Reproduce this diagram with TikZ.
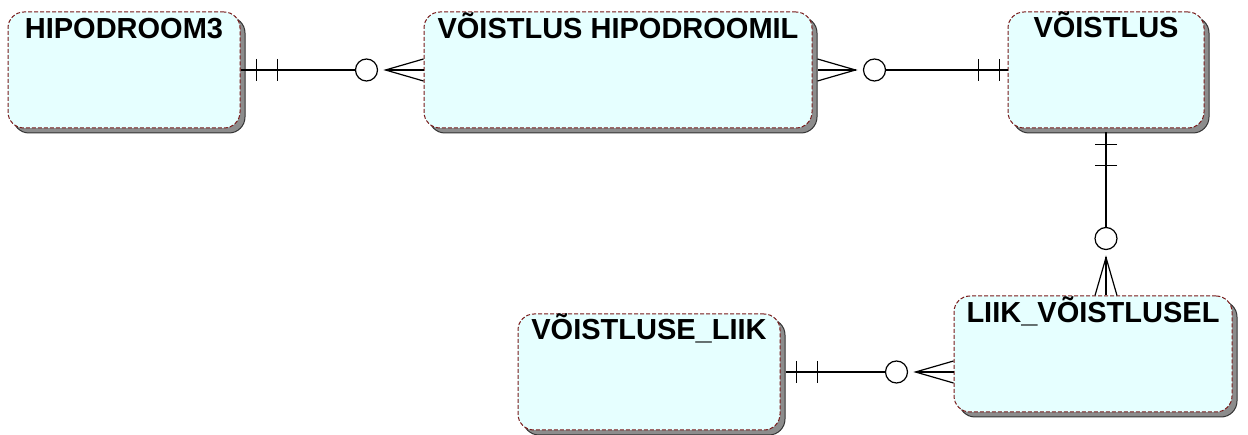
\documentclass[tikz,border=0pt]{standalone}
\usepackage{fontspec}
\setmainfont{Liberation Sans}
\usetikzlibrary{shapes,arrows,shadows,calc}
\definecolor{boxfill}{RGB}{230,255,255}
\definecolor{boxline}{RGB}{120,25,25}
\tikzset{
	entity/.style   = {draw=boxline, line width=1pt, dash pattern=on 4pt off 2pt, fill=boxfill,
		rounded corners=16pt, minimum height=116pt, inner sep=0pt,
		drop shadow={shadow xshift=5pt, shadow yshift=-5pt, fill=black!45, draw=black!80,
			solid, line width=1pt, opacity=1}},
	title/.style    = {anchor=base, inner sep=0pt, font=\fontsize{29}{33}\selectfont\bfseries},
	rel/.style      = {draw, line width=1.2pt},
	% zero-or-many end, drawn at the box edge
	crowzero/.pic   = {
		\draw[rel] (0,-11) -- (-38,0) -- (0,11);
		\draw[rel] (-38,0) -- (0,0);
		\draw[rel] (-57,0) circle[radius=11pt];
		\coordinate (-c) at (-68,0);
	},
	% exactly-one end
	onebar/.pic     = {
		\draw[rel] (16,-11) -- (16,11);
		\draw[rel] (37,-11) -- (37,11);
	}
}

\begin{document}
\begin{tikzpicture}[x=1pt, y=-1pt]
	\useasboundingbox (0,0) rectangle (1248,435);
	\draw
	% entities
	node at (124,70)[entity, minimum width=232pt] (hipo) {}
	node at (618,70)[entity, minimum width=388pt] (vh) {}
	node at (1106,70)[entity, minimum width=196pt] (vo) {}
	node at (1093,354)[entity, minimum width=278pt] (liik) {}
	node at (649,372)[entity, minimum width=262pt] (vl) {};
	
	\node[title] (hipo-t) at ($(hipo.north)+(0,27)$) {HIPODROOM3};
	\node[title] (vh-t) at ($(vh.north)+(0,27)$) {VÕISTLUS HIPODROOMIL};
	\node[title] (vo-t) at ($(vo.north)+(0,26)$) {VÕISTLUS};
	\node[title] (liik-t) at ($(liik.north)+(0,27)$) {LIIK\_VÕISTLUSEL};
	\node[title] (vl-t) at ($(vl.north)+(0,26)$) {VÕISTLUSE\_LIIK};
	
	% relationships
	\pic (m1) at (vh.west) {crowzero};
	\pic at (hipo.east) {onebar};
	\draw[rel] (hipo.east) -- (m1-c);
	
	\pic[rotate=180] (m2) at ([xshift=5pt]vh.east) {crowzero};
	\pic[rotate=180] at ([xshift=8pt]vo.west) {onebar};
	\draw[rel] (vo.west) -- (m2-c);
	
	\pic[rotate=-90] (m3) at (vo.south |- liik.north) {crowzero};
	\pic[rotate=-90] at (vo.south) {onebar};
	\draw[rel] ([yshift=-4pt]vo.south) -- (m3-c);
	
	\pic (m4) at (vl.east -| liik.west) {crowzero};
	\pic at (vl.east) {onebar};
	\draw[rel] ([xshift=5pt]vl.east) -- (m4-c);
\end{tikzpicture}
\end{document}
